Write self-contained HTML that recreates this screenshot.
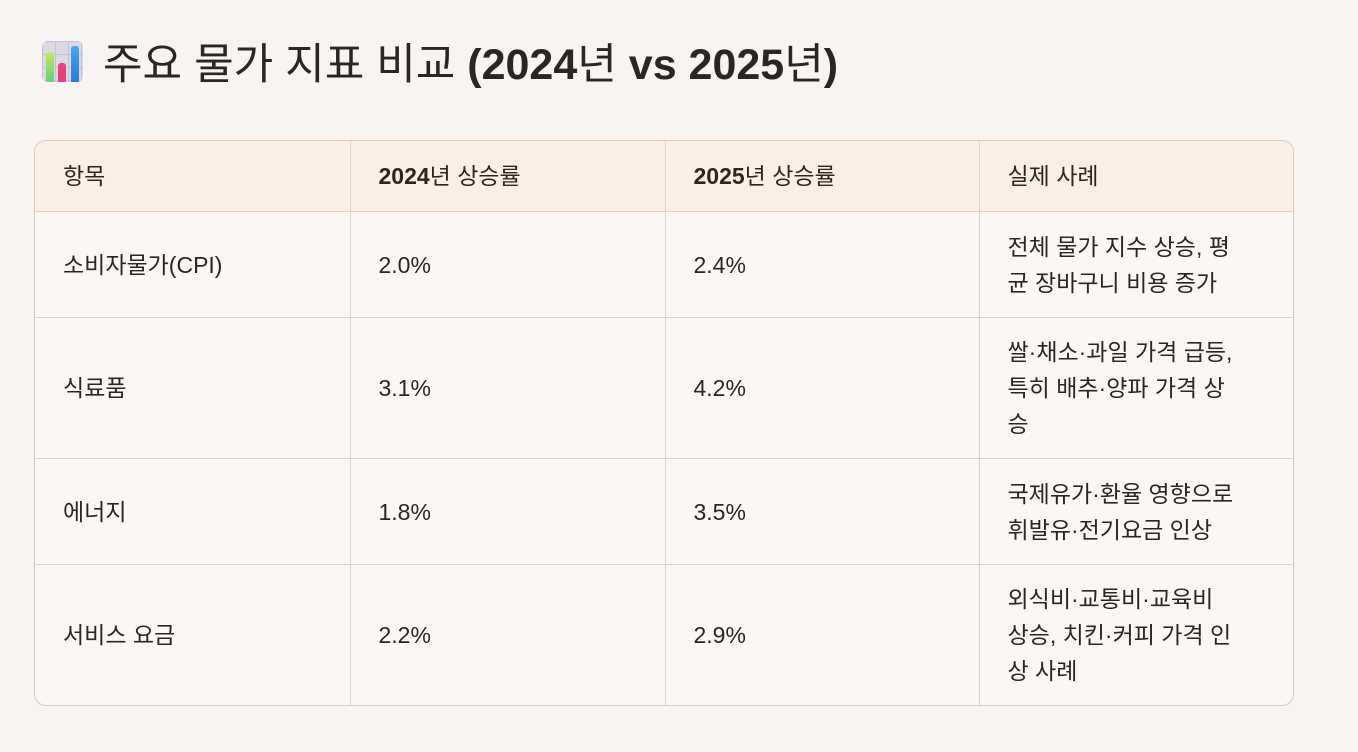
<!DOCTYPE html>
<html><head><meta charset="utf-8">
<style>
html,body{margin:0;padding:0;width:1358px;height:752px;overflow:hidden;background:#f7f4f1;font-family:"Liberation Sans","Noto Sans CJK KR",sans-serif;color:#2b2623;}
.title{position:absolute;left:42px;top:33px;height:56px;display:flex;align-items:center;font-size:43px;white-space:nowrap;}
.icon{width:41px;height:41px;border-radius:6px;background:#dcd8e4;position:relative;margin-right:20px;overflow:hidden;flex:none;
background-image:linear-gradient(#c7c2d2 1px,transparent 1px),linear-gradient(90deg,#c7c2d2 1px,transparent 1px);background-size:13px 13px;}
.bar{position:absolute;bottom:0;width:8px;border-radius:3px 3px 0 0;}
.wrap{position:absolute;left:34px;top:140px;width:1258px;height:564px;border:1px solid #dcc8b8;border-radius:12px;overflow:hidden;background:#faf7f4;}
table{border-collapse:collapse;width:100%;height:100%;table-layout:fixed;font-size:23px;}
td,th{border:1px solid #e3d2c4;padding:0 28px;text-align:left;font-weight:normal;vertical-align:middle;line-height:36px;white-space:nowrap;}
tr:first-child th{border-top:none;}
th:first-child,td:first-child{border-left:none;}
th:last-child,td:last-child{border-right:none;}
tr:last-child td{border-bottom:none;}
thead th{background:#fbeee4;height:70px;}
b{font-weight:bold;}
</style></head><body>
<div class="title"><div class="icon">
<div class="bar" style="left:4px;height:30px;background:linear-gradient(#c8e65a,#5fd27a)"></div>
<div class="bar" style="left:16px;height:19px;background:#e8407a"></div>
<div class="bar" style="left:29px;height:36px;background:linear-gradient(#44a8f0,#2c78d8)"></div>
</div><span>주요 물가 지표 비교 <b>(2024</b>년 <b>vs 2025</b>년<b>)</b></span></div>
<div class="wrap"><table>
<colgroup><col style="width:315px"><col style="width:315px"><col style="width:314px"><col></colgroup>
<thead><tr><th>항목</th><th><b>2024</b>년 상승률</th><th><b>2025</b>년 상승률</th><th>실제 사례</th></tr></thead>
<tbody>
<tr style="height:106px"><td>소비자물가(CPI)</td><td>2.0%</td><td>2.4%</td><td>전체 물가 지수 상승, 평<br>균 장바구니 비용 증가</td></tr>
<tr style="height:141px"><td>식료품</td><td>3.1%</td><td>4.2%</td><td>쌀·채소·과일 가격 급등,<br>특히 배추·양파 가격 상<br>승</td></tr>
<tr style="height:106px"><td>에너지</td><td>1.8%</td><td>3.5%</td><td>국제유가·환율 영향으로<br>휘발유·전기요금 인상</td></tr>
<tr style="height:141px"><td>서비스 요금</td><td>2.2%</td><td>2.9%</td><td>외식비·교통비·교육비<br>상승, 치킨·커피 가격 인<br>상 사례</td></tr>
</tbody></table></div>
</body></html>
